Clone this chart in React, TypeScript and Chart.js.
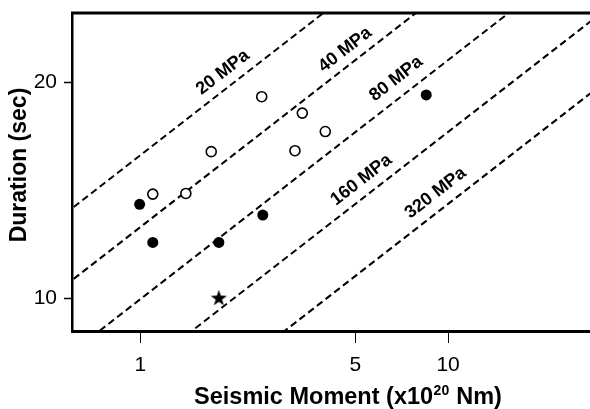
import React, { useEffect, useRef } from 'react';
import { Chart, registerables } from 'chart.js';

Chart.register(...registerables);

const FONT = "'Liberation Sans', Arial, Helvetica, sans-serif";

// Seismic moment (x10^20 Nm) and duration (sec)
const filledMoment = [0.995, 1.098, 1.8, 2.5, 8.49];
const filledDuration = [13.53, 11.97, 11.97, 13.07, 19.22];
const openMoment = [1.098, 1.406, 1.7, 2.48, 3.18, 3.36, 3.99];
const openDuration = [13.98, 14.01, 16.02, 19.11, 16.07, 18.13, 17.09];
const starMoment = [1.8];
const starDuration = [10.03];

// Constant stress-drop reference lines
const stressLabels = ['20 MPa', '40 MPa', '80 MPa', '160 MPa', '320 MPa'];
const lineMoment = [0.5, 30];
const lineDuration = [
  [12.57, 49.2],
  [9.98, 39.07],
  [7.92, 31.01],
  [6.29, 24.61],
  [4.99, 19.54],
];
const labelMoment = [1.854, 4.63, 6.78, 5.23, 9.11];
const labelDuration = [20.66, 22.22, 20.24, 14.63, 14.03];

const xTicks = [1, 5, 10];
const yTicks = [10, 20];

const xTitleMain = 'Seismic Moment (x10';
const xTitleSup = '20';
const xTitleEnd = ' Nm)';
const yTitle = 'Duration (sec)';

function makeStar(size: number): HTMLCanvasElement {
  const c = document.createElement('canvas');
  c.width = size;
  c.height = size;
  const ctx = c.getContext('2d')!;
  ctx.fillStyle = '#000';
  ctx.beginPath();
  const cx = size / 2;
  const cy = size / 2 + size * 0.05;
  for (let i = 0; i < 10; i++) {
    const r = i % 2 === 0 ? size / 2 : size * 0.2;
    const a = -Math.PI / 2 + (i * Math.PI) / 5;
    ctx.lineTo(cx + r * Math.cos(a), cy + r * Math.sin(a));
  }
  ctx.closePath();
  ctx.fill();
  return c;
}

export default function App() {
  const ref = useRef<HTMLCanvasElement | null>(null);

  useEffect(() => {
    if (!ref.current) return;
    const star = makeStar(17);

    const lineSets = lineDuration.map((ys, i) => ({
      label: stressLabels[i],
      data: lineMoment.map((x, j) => ({ x, y: ys[j] })),
      showLine: true,
      borderColor: '#000',
      borderWidth: 2,
      borderDash: [7, 4],
      pointRadius: 0,
      fill: false,
      clip: 0,
    }));

    const labelPlugin = {
      id: 'stressLabels',
      afterDatasetsDraw(chart: any) {
        const { ctx, scales, chartArea } = chart;
        const xs = scales.x;
        const ys = scales.y;
        ctx.save();
        ctx.fillStyle = '#000';
        ctx.font = `bold 18px ${FONT}`;
        ctx.textAlign = 'center';
        ctx.textBaseline = 'middle';
        stressLabels.forEach((t, i) => {
          const x1 = xs.getPixelForValue(lineMoment[0]);
          const x2 = xs.getPixelForValue(lineMoment[1]);
          const y1 = ys.getPixelForValue(lineDuration[i][0]);
          const y2 = ys.getPixelForValue(lineDuration[i][1]);
          const ang = Math.atan2(y2 - y1, x2 - x1);
          const px = xs.getPixelForValue(labelMoment[i]);
          const py = ys.getPixelForValue(labelDuration[i]);
          ctx.save();
          ctx.translate(px, py);
          ctx.rotate(ang);
          ctx.fillText(t, 0, 0);
          ctx.restore();
        });
        // top frame line
        ctx.strokeStyle = '#000';
        ctx.lineWidth = 3;
        ctx.beginPath();
        ctx.moveTo(chartArea.left - 1, chartArea.top);
        ctx.lineTo(chart.width, chartArea.top);
        ctx.stroke();

        // x axis title with superscript
        ctx.textAlign = 'left';
        ctx.textBaseline = 'alphabetic';
        const mainFont = `bold 23.5px ${FONT}`;
        const supFont = `bold 14px ${FONT}`;
        ctx.font = mainFont;
        const w1 = ctx.measureText(xTitleMain).width;
        ctx.font = supFont;
        const w2 = ctx.measureText(xTitleSup).width;
        ctx.font = mainFont;
        const w3 = ctx.measureText(xTitleEnd).width;
        const total = w1 + w2 + 1 + w3;
        const cx = chartArea.left + 276;
        let x0 = cx - total / 2;
        const base = chart.height - 5;
        ctx.fillText(xTitleMain, x0, base);
        x0 += w1 + 0.5;
        ctx.font = supFont;
        ctx.fillText(xTitleSup, x0, base - 9);
        x0 += w2 + 0.5;
        ctx.font = mainFont;
        ctx.fillText(xTitleEnd, x0, base);

        // y axis title
        ctx.save();
        ctx.font = `bold 23px ${FONT}`;
        ctx.textAlign = 'center';
        ctx.textBaseline = 'middle';
        ctx.translate(20, (chartArea.top + chartArea.bottom) / 2 - 7);
        ctx.rotate(-Math.PI / 2);
        ctx.fillText(yTitle, 0, 0);
        ctx.restore();

        ctx.restore();
      },
    };

    const chart = new Chart(ref.current, {
      type: 'scatter',
      data: {
        datasets: [
          {
            label: 'filled',
            data: filledMoment.map((x, i) => ({ x, y: filledDuration[i] })),
            pointStyle: 'circle',
            pointRadius: 5.5,
            backgroundColor: '#000',
            borderColor: '#000',
            borderWidth: 0,
          },
          {
            label: 'open',
            data: openMoment.map((x, i) => ({ x, y: openDuration[i] })),
            pointStyle: 'circle',
            pointRadius: 5,
            backgroundColor: '#fff',
            borderColor: '#000',
            borderWidth: 1.6,
          },
          {
            label: 'star',
            data: starMoment.map((x, i) => ({ x, y: starDuration[i] })),
            pointStyle: star as any,
            pointRadius: 8,
            backgroundColor: '#000',
            borderColor: '#000',
          },
          ...lineSets,
        ] as any,
      },
      options: {
        animation: false,
        responsive: true,
        maintainAspectRatio: false,
        layout: { autoPadding: false, padding: { top: 13, left: 0, right: 0, bottom: 0 } },
        plugins: {
          legend: { display: false },
          tooltip: { enabled: false },
        },
        scales: {
          x: {
            type: 'logarithmic',
            min: 0.624,
            max: 28.9,
            afterFit: (s: any) => {
              s.height = 78;
              s.paddingLeft = 0;
              s.paddingRight = 0;
            },
            afterBuildTicks: (s: any) => {
              s.ticks = xTicks.map((v) => ({ value: v }));
            },
            ticks: {
              callback: (v: any) => String(v),
              color: '#000',
              font: { family: FONT, size: 21 },
              padding: 10,
              maxRotation: 0,
              autoSkip: false,
            },
            grid: {
              display: true,
              drawOnChartArea: false,
              drawTicks: true,
              tickLength: 12,
              tickWidth: 1,
              tickColor: '#000',
            },
            border: { display: true, color: '#000', width: 3 },
          },
          y: {
            type: 'logarithmic',
            min: 9.01,
            max: 25.0,
            afterFit: (s: any) => {
              s.width = 72;
              s.paddingTop = 0;
              s.paddingBottom = 0;
            },
            afterBuildTicks: (s: any) => {
              s.ticks = yTicks.map((v) => ({ value: v }));
            },
            ticks: {
              callback: (v: any) => String(v),
              color: '#000',
              font: { family: FONT, size: 21 },
              padding: 7,
              autoSkip: false,
            },
            grid: {
              display: true,
              drawOnChartArea: false,
              drawTicks: true,
              tickLength: 8,
              tickWidth: 1.5,
              tickColor: '#000',
            },
            border: { display: true, color: '#000', width: 2.5 },
          },
        },
      } as any,
      plugins: [labelPlugin],
    });

    return () => chart.destroy();
  }, []);

  return (
    <div style={{ position: 'absolute', left: 0, top: 0, width: 590, height: 409, background: '#fff' }}>
      <canvas ref={ref} />
    </div>
  );
}
